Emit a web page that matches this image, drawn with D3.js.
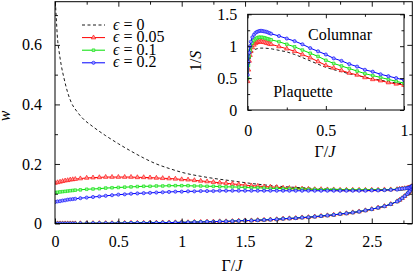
<!DOCTYPE html>
<html>
<head>
<meta charset="utf-8">
<script src="https://cdn.jsdelivr.net/npm/d3@7"></script>
</head>
<body style="margin:0;background:#fff">
<div id="chart"></div>
<script>
// ---- main plot: w vs Gamma/J ----
const gammaMain = [
  0, 0.02, 0.04, 0.06, 0.08, 0.1, 0.12, 0.14, 0.16,
  0.2, 0.25, 0.3, 0.35, 0.4, 0.45, 0.5, 0.55, 0.6, 0.65, 0.7, 0.75, 0.8, 0.85, 0.9, 0.95, 1.0,
  1.05, 1.1, 1.15, 1.2, 1.25, 1.3, 1.35, 1.4, 1.45, 1.5, 1.55, 1.6, 1.65, 1.7, 1.75, 1.8, 1.85, 1.9, 1.95, 2.0,
  2.05, 2.1, 2.15, 2.2, 2.25, 2.3, 2.35, 2.4, 2.45, 2.5, 2.55, 2.6, 2.65, 2.7,
  2.72, 2.74, 2.76, 2.78, 2.79, 2.8, 2.81, 2.815, 2.82
];
const wUpper005 = [
  0.136, 0.138, 0.140, 0.142, 0.144, 0.145, 0.147, 0.148, 0.149,
  0.151, 0.153, 0.154, 0.155, 0.156, 0.156, 0.156, 0.156, 0.156, 0.155, 0.155, 0.154, 0.153, 0.152, 0.151, 0.150, 0.148,
  0.147, 0.145, 0.143, 0.141, 0.139, 0.137, 0.135, 0.133, 0.131, 0.129, 0.127, 0.126, 0.124, 0.123, 0.122, 0.120, 0.119, 0.118, 0.117, 0.116,
  0.115, 0.115, 0.114, 0.114, 0.113, 0.113, 0.113, 0.113, 0.113, 0.113, 0.113, 0.114, 0.114, 0.115,
  0.116, 0.117, 0.118, 0.119, 0.120, 0.121, 0.123, 0.124, 0.126
];
const wUpper01 = [
  0.104, 0.105, 0.106, 0.107, 0.108, 0.109, 0.110, 0.111, 0.112,
  0.113, 0.115, 0.116, 0.117, 0.119, 0.120, 0.121, 0.122, 0.123, 0.124, 0.125, 0.125, 0.126, 0.126, 0.127, 0.127, 0.127,
  0.127, 0.126, 0.126, 0.125, 0.125, 0.124, 0.123, 0.123, 0.122, 0.121, 0.120, 0.120, 0.119, 0.118, 0.118, 0.117, 0.117, 0.116, 0.116, 0.115,
  0.115, 0.114, 0.114, 0.114, 0.113, 0.113, 0.113, 0.113, 0.113, 0.113, 0.113, 0.113, 0.114, 0.115,
  0.116, 0.117, 0.118, 0.119, 0.120, 0.121, 0.123, 0.124, 0.126
];
const wUpper02 = [
  0.072, 0.074, 0.075, 0.077, 0.078, 0.080, 0.081, 0.082, 0.083,
  0.085, 0.087, 0.089, 0.091, 0.093, 0.095, 0.097, 0.098, 0.100, 0.101, 0.102, 0.103, 0.104, 0.105, 0.106, 0.107, 0.107,
  0.108, 0.108, 0.109, 0.109, 0.109, 0.110, 0.110, 0.110, 0.110, 0.110, 0.110, 0.110, 0.110, 0.110, 0.110, 0.110, 0.110, 0.110, 0.110, 0.110,
  0.110, 0.110, 0.110, 0.110, 0.110, 0.110, 0.110, 0.110, 0.110, 0.111, 0.111, 0.112, 0.113, 0.114,
  0.116, 0.117, 0.118, 0.119, 0.120, 0.121, 0.123, 0.124, 0.126
];
const wLower = [
  0, 0, 0, 0, 0, 0, 0, 0, 0,
  0.0005, 0.0005, 0.001, 0.001, 0.001, 0.001, 0.0015, 0.0015, 0.002, 0.002, 0.002, 0.0025, 0.0025, 0.003, 0.003, 0.0035, 0.004,
  0.004, 0.005, 0.005, 0.006, 0.006, 0.007, 0.007, 0.008, 0.009, 0.010, 0.010, 0.011, 0.012, 0.013, 0.014, 0.016, 0.017, 0.018, 0.020, 0.021,
  0.023, 0.025, 0.027, 0.029, 0.032, 0.034, 0.037, 0.040, 0.044, 0.048, 0.053, 0.058, 0.065, 0.074,
  0.079, 0.085, 0.092, 0.099, 0.104, 0.109, 0.115, 0.119, 0.125
];
const gammaZero = [0.003, 0.01, 0.02, 0.03, 0.05, 0.07, 0.1, 0.13, 0.17, 0.21, 0.3, 0.4, 0.5, 0.6, 0.7, 0.8, 0.9, 1.0,
  1.2, 1.4, 1.6, 1.8, 2.0, 2.2, 2.4, 2.6, 2.7, 2.75, 2.8, 2.82];
const wZero = [0.745, 0.69, 0.62, 0.585, 0.53, 0.49, 0.44, 0.405, 0.378, 0.357, 0.325, 0.295, 0.268, 0.243, 0.22, 0.2, 0.185, 0.172,
  0.155, 0.143, 0.132, 0.124, 0.119, 0.115, 0.113, 0.113, 0.115, 0.117, 0.121, 0.126];

// ---- inset: 1/S vs Gamma/J ----
const gammaInset = [0, 0.005, 0.01, 0.015, 0.02, 0.03, 0.04, 0.05, 0.06, 0.07, 0.08, 0.09, 0.1, 0.11, 0.12, 0.13, 0.14, 0.15,
  0.2, 0.25, 0.3, 0.35, 0.4, 0.45, 0.5, 0.55, 0.6, 0.65, 0.7, 0.75, 0.8, 0.85, 0.9, 0.95, 1.0];
const invS005 = [0.45, 0.63, 0.77, 0.86, 0.92, 0.98, 1.02, 1.045, 1.06, 1.07, 1.07, 1.07, 1.065, 1.06, 1.05, 1.045, 1.035, 1.03,
  0.995, 0.96, 0.92, 0.87, 0.82, 0.76, 0.70, 0.66, 0.62, 0.58, 0.55, 0.51, 0.48, 0.46, 0.43, 0.41, 0.39];
const invS01 = [0.50, 0.70, 0.84, 0.93, 0.99, 1.05, 1.09, 1.115, 1.13, 1.14, 1.14, 1.14, 1.135, 1.13, 1.12, 1.115, 1.105, 1.10,
  1.07, 1.03, 0.99, 0.94, 0.89, 0.84, 0.78, 0.73, 0.69, 0.65, 0.61, 0.57, 0.54, 0.51, 0.48, 0.45, 0.42];
const invS02 = [0.55, 0.75, 0.90, 1.00, 1.07, 1.14, 1.18, 1.21, 1.225, 1.235, 1.24, 1.24, 1.235, 1.23, 1.225, 1.215, 1.205, 1.195,
  1.16, 1.12, 1.08, 1.03, 0.97, 0.92, 0.87, 0.81, 0.77, 0.72, 0.68, 0.63, 0.60, 0.56, 0.53, 0.50, 0.47];
const gammaInsetZero = [0.015, 0.02, 0.03, 0.04, 0.06, 0.08, 0.1, 0.13, 0.16, 0.2, 0.25, 0.3, 0.4, 0.5, 0.6, 0.7, 0.8, 0.9, 1.0];
const invSZero = [0.80, 0.86, 0.91, 0.94, 0.96, 0.97, 0.97, 0.965, 0.955, 0.935, 0.91, 0.87, 0.77, 0.67, 0.60, 0.54, 0.49, 0.445, 0.405];

const legendLabels = ["0", "0.05", "0.1", "0.2"];
const mainXTicks = [0, 0.5, 1, 1.5, 2, 2.5];
const mainYTicks = [0, 0.2, 0.4, 0.6];
const insetXTicks = [0, 0.5, 1];
const insetYTicks = [0, 0.5, 1, 1.5];

const series = [
  { color: "#ff0000", light: "#ff9a9a", symbol: d3.symbolTriangle, size: 9, upper: wUpper005, inset: invS005 },
  { color: "#00e000", light: "#9af59a", symbol: d3.symbolSquare, size: 7, upper: wUpper01, inset: invS01 },
  { color: "#0000ff", light: "#9a9aff", symbol: d3.symbolCircle, size: 8, upper: wUpper02, inset: invS02 }
];

const FONT = "Liberation Serif";
const width = 416, height = 278;
const svg = d3.select("#chart").append("svg").attr("width", width).attr("height", height)
  .attr("font-family", FONT).attr("font-size", 16);

const fmt = d3.format("~g");
const label = sel => sel.attr("font-family", FONT).attr("font-size", 16).attr("fill", "#000");

function drawFrame(xs, ys, o) {
  const [xa, xb] = xs.range(), [ya, yb] = ys.range();
  const clean = g => {
    g.attr("font-family", FONT).attr("font-size", 16);
    g.select(".domain").remove();
    g.selectAll("line").attr("stroke", "#000").attr("stroke-width", 0.9);
    g.selectAll("text").call(label);
  };
  const xMinor = o.xMinor.filter(v => !o.xMajor.includes(v));
  const yMinor = o.yMinor.filter(v => !o.yMajor.includes(v));
  // bottom
  svg.append("g").attr("transform", `translate(0,${ya})`)
    .call(d3.axisBottom(xs).tickValues(o.xMajor).tickSize(-o.major).tickPadding(o.xPad).tickFormat(fmt)).call(clean);
  svg.append("g").attr("transform", `translate(0,${ya})`)
    .call(d3.axisBottom(xs).tickValues(xMinor).tickSize(-o.minor).tickFormat("")).call(clean);
  // top
  svg.append("g").attr("transform", `translate(0,${yb})`)
    .call(d3.axisTop(xs).tickValues(o.xMajor).tickSize(-o.major).tickFormat("")).call(clean);
  svg.append("g").attr("transform", `translate(0,${yb})`)
    .call(d3.axisTop(xs).tickValues(xMinor).tickSize(-o.minor).tickFormat("")).call(clean);
  // left
  svg.append("g").attr("transform", `translate(${xa},0)`)
    .call(d3.axisLeft(ys).tickValues(o.yMajor).tickSize(-o.major).tickPadding(o.yPad).tickFormat(fmt)).call(clean);
  svg.append("g").attr("transform", `translate(${xa},0)`)
    .call(d3.axisLeft(ys).tickValues(yMinor).tickSize(-o.minor).tickFormat("")).call(clean);
  // right
  svg.append("g").attr("transform", `translate(${xb},0)`)
    .call(d3.axisRight(ys).tickValues(o.yMajor).tickSize(-o.major).tickFormat("")).call(clean);
  svg.append("g").attr("transform", `translate(${xb},0)`)
    .call(d3.axisRight(ys).tickValues(yMinor).tickSize(-o.minor).tickFormat("")).call(clean);
  svg.append("rect")
    .attr("x", xa).attr("y", yb).attr("width", xb - xa).attr("height", ya - yb)
    .attr("fill", "none").attr("stroke", "#000").attr("stroke-width", 1);
}

function drawSeries(g, xs, ys, gam, vals, s) {
  const pts = gam.map((v, i) => [v, vals[i]]);
  g.append("path").datum(pts)
    .attr("fill", "none").attr("stroke", s.color).attr("stroke-width", 1)
    .attr("d", d3.line().x(d => xs(d[0])).y(d => ys(d[1])));
  g.selectAll(null).data(pts).join("path")
    .attr("transform", d => `translate(${xs(d[0])},${ys(d[1])})`)
    .attr("d", d3.symbol().type(s.symbol).size(s.size))
    .attr("fill", s.light).attr("stroke", s.color).attr("stroke-width", 0.6);
}

function drawDashed(g, xs, ys, gam, vals) {
  g.append("path").datum(gam.map((v, i) => [v, vals[i]]))
    .attr("fill", "none").attr("stroke", "#000").attr("stroke-width", 0.9)
    .attr("stroke-dasharray", "3,2.5")
    .attr("d", d3.line().curve(d3.curveMonotoneX).x(d => xs(d[0])).y(d => ys(d[1])));
}

// ---- main ----
const x = d3.scaleLinear().domain([0, 2.82]).range([55, 412.3]);
const y = d3.scaleLinear().domain([0, 0.745]).range([223.5, 1.7]);

svg.append("clipPath").attr("id", "clipMain").append("rect")
  .attr("x", 55).attr("y", 1.7).attr("width", 357.3).attr("height", 221.8);
const gMain = svg.append("g").attr("clip-path", "url(#clipMain)");
drawDashed(gMain, x, y, gammaZero, wZero);
series.forEach(s => {
  drawSeries(gMain, x, y, gammaMain, wLower, s);
  drawSeries(gMain, x, y, gammaMain, s.upper, s);
});

drawFrame(x, y, {
  xMajor: mainXTicks, xMinor: [0.25, 0.75, 1.25, 1.75, 2.25, 2.75],
  yMajor: mainYTicks, yMinor: [0.1, 0.3, 0.5, 0.7],
  major: 5, minor: 3, xPad: 12.5, yPad: 13
});

svg.append("text").attr("x", 232).attr("y", 271).attr("text-anchor", "middle").call(label)
  .html('Γ/<tspan font-style="italic">J</tspan>');
svg.append("text").attr("transform", "translate(10,116) rotate(-90)").attr("text-anchor", "middle").call(label)
  .attr("font-style", "italic").text("w");

// legend
const legY = [25, 37.6, 50.2, 62.8];
legendLabels.forEach((lab, i) => {
  const ly = legY[i];
  if (i === 0) {
    svg.append("line").attr("x1", 82).attr("x2", 105).attr("y1", ly).attr("y2", ly)
      .attr("stroke", "#000").attr("stroke-width", 0.9).attr("stroke-dasharray", "3,2.5");
  } else {
    const s = series[i - 1];
    svg.append("line").attr("x1", 82).attr("x2", 105).attr("y1", ly).attr("y2", ly)
      .attr("stroke", s.color).attr("stroke-width", 1);
    svg.append("path").attr("transform", `translate(93.5,${ly})`)
      .attr("d", d3.symbol().type(s.symbol).size(s.size))
      .attr("fill", s.light).attr("stroke", s.color).attr("stroke-width", 0.6);
  }
  svg.append("text").attr("x", 113).attr("y", ly + 4.5).call(label)
    .html(`<tspan font-style="italic">ϵ</tspan> = ${lab}`);
});

// ---- inset ----
const xi = d3.scaleLinear().domain([0, 1]).range([247.7, 404]);
const yi = d3.scaleLinear().domain([0, 1.5]).range([110, 14.3]);
svg.append("rect").attr("x", 247.7).attr("y", 14.3).attr("width", 156.3).attr("height", 95.7).attr("fill", "#fff");
svg.append("clipPath").attr("id", "clipInset").append("rect")
  .attr("x", 247.7).attr("y", 14.3).attr("width", 156.3).attr("height", 95.7);
const gIn = svg.append("g").attr("clip-path", "url(#clipInset)");
drawDashed(gIn, xi, yi, gammaInsetZero, invSZero);
series.forEach(s => drawSeries(gIn, xi, yi, gammaInset, s.inset, s));

drawFrame(xi, yi, {
  xMajor: insetXTicks, xMinor: [0.25, 0.75],
  yMajor: insetYTicks, yMinor: [0.25, 0.75, 1.25],
  major: 4, minor: 2.5, xPad: 14.5, yPad: 10.5
});

svg.append("text").attr("x", 340).attr("y", 40).attr("text-anchor", "middle").call(label).text("Columnar");
svg.append("text").attr("x", 303).attr("y", 97).attr("text-anchor", "middle").call(label).text("Plaquette");
svg.append("text").attr("x", 325).attr("y", 157).attr("text-anchor", "middle").call(label)
  .html('Γ/<tspan font-style="italic">J</tspan>');
svg.append("text").attr("transform", "translate(201,61) rotate(-90)").attr("text-anchor", "middle").call(label)
  .html('1/<tspan font-style="italic">S</tspan>');
</script>
</body>
</html>
